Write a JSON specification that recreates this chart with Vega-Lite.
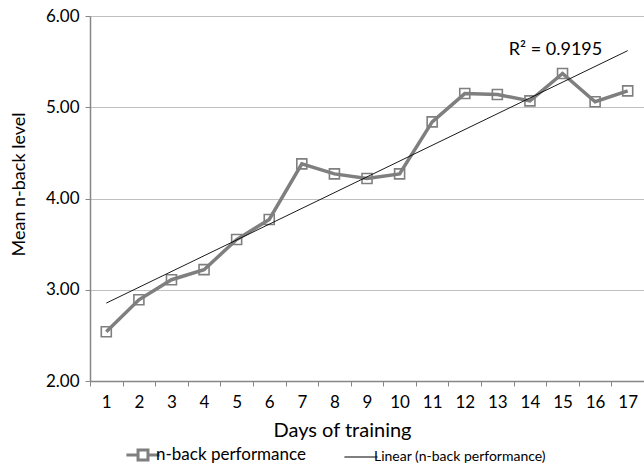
{
  "$schema": "https://vega.github.io/schema/vega-lite/v6.json",
  "width": 554,
  "height": 365,
  "autosize": {"type": "none"},
  "padding": {"left": 90, "top": 16, "right": 0, "bottom": 87},
  "background": "white",
  "config": {
    "view": {"stroke": null},
    "font": "Lato",
    "axis": {"labelFont": "Lato", "titleFont": "Lato", "labelColor": "#000", "titleColor": "#000", "titleFontWeight": "normal"}
  },
  "data": {
    "values": [
      {"day": 1, "value": 2.54},
      {"day": 2, "value": 2.89},
      {"day": 3, "value": 3.11},
      {"day": 4, "value": 3.22},
      {"day": 5, "value": 3.55},
      {"day": 6, "value": 3.77},
      {"day": 7, "value": 4.38},
      {"day": 8, "value": 4.27},
      {"day": 9, "value": 4.22},
      {"day": 10, "value": 4.27},
      {"day": 11, "value": 4.84},
      {"day": 12, "value": 5.15},
      {"day": 13, "value": 5.14},
      {"day": 14, "value": 5.07},
      {"day": 15, "value": 5.37},
      {"day": 16, "value": 5.06},
      {"day": 17, "value": 5.18}
    ]
  },
  "encoding": {
    "x": {
      "field": "day",
      "type": "ordinal",
      "scale": {"type": "band", "paddingInner": 0, "paddingOuter": 0},
      "axis": {
        "title": "Days of training",
        "titleFontSize": 20,
        "titlePadding": 10,
        "titleX": 252,
        "labelAngle": 0,
        "labelFontSize": 17,
        "labelPadding": 8,
        "tickBand": "extent",
        "tickSize": 5,
        "tickColor": "#868686",
        "domainColor": "#868686",
        "domainWidth": 1.5,
        "grid": false
      }
    },
    "y": {
      "field": "value",
      "type": "quantitative",
      "scale": {"domain": [2, 6], "nice": false, "zero": false},
      "axis": {
        "title": "Mean n-back level",
        "titleFontSize": 18,
        "titlePadding": 17,
        "titleY": 168,
        "values": [2, 3, 4, 5, 6],
        "format": ".2f",
        "labelFontSize": 17,
        "labelPadding": 6,
        "tickSize": 5,
        "tickColor": "#868686",
        "domainColor": "#868686",
        "domainWidth": 1.5,
        "gridColor": "#c0c0c0",
        "gridWidth": 1
      }
    }
  },
  "layer": [
    {
      "mark": {"type": "line", "strokeWidth": 3.5},
      "encoding": {
        "color": {
          "datum": "n-back performance",
          "type": "nominal",
          "scale": {"domain": ["n-back performance", "Linear (n-back performance)"], "range": ["#7f7f7f", "#000000"]},
          "legend": {
            "orient": "none",
            "legendX": 46,
            "legendY": 432,
            "direction": "horizontal",
            "title": null,
            "labelFontSize": 16,
            "labelFont": "Lato",
            "labelColor": "#000",
            "labelLimit": 400,
            "labelOffset": 6,
            "columnPadding": 36,
            "symbolSize": 1100,
            "symbolType": "M-1,0H1",
            "encode": {
              "symbols": {
                "update": {
                  "shape": {"signal": "datum.value === 'n-back performance' ? 'M-1,0H-0.3M0.3,0H1M-0.3,-0.3H0.3V0.3H-0.3Z' : 'M-1,0H1'"},
                  "strokeWidth": {"signal": "datum.value === 'n-back performance' ? 3 : 1"},
                  "fill": {"value": "transparent"}
                }
              },
              "labels": {
                "update": {
                  "fontSize": {"signal": "datum.value === 'n-back performance' ? 17 : 14"}
                }
              }
            }
          }
        }
      }
    },
    {
      "mark": {"type": "point", "shape": "square", "filled": false, "size": 100, "stroke": "#7f7f7f", "strokeWidth": 1.6, "opacity": 1}
    },
    {
      "transform": [{"regression": "value", "on": "day"}],
      "mark": {"type": "line", "strokeWidth": 0.9},
      "encoding": {
        "color": {"datum": "Linear (n-back performance)", "type": "nominal"}
      }
    },
    {
      "data": {"values": [{"day": 15, "value": 5.63, "label": "R² = 0.9195"}]},
      "mark": {"type": "text", "fontSize": 18, "font": "Lato", "color": "#000", "dx": -7},
      "encoding": {"text": {"field": "label"}}
    }
  ]
}
